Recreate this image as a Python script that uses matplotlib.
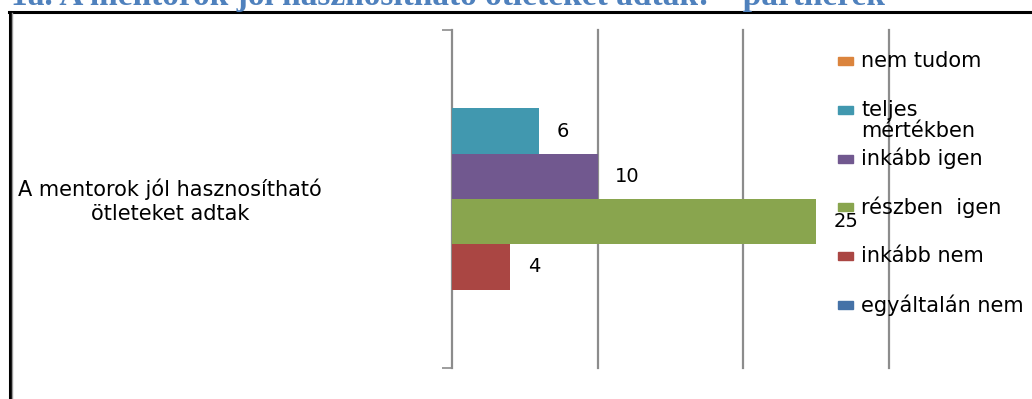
import numpy as np
import matplotlib.pyplot as plt
from matplotlib.patches import Rectangle
from matplotlib.lines import Line2D

title = "1a. A mentorok jól hasznosítható ötleteket adtak: – partnerek"
category = "A mentorok jól hasznosítható\nötleteket adtak"

# series in legend order (top to bottom)
series = ["nem tudom", "teljes\nmértékben", "inkább igen",
          "részben  igen", "inkább nem", "egyáltalán nem"]
values = [0, 6, 10, 25, 4, 0]
colors = ["#DB843D", "#4198AF", "#71588F", "#89A54E", "#AA4643", "#4572A7"]

W, H = 1032, 399
fig = plt.figure(figsize=(W / 100, H / 100), dpi=100)
fig.patch.set_facecolor("white")

def fx(px):
    return px / W

def fy(py):
    return 1 - py / H

# page frame and heading above it
fig.add_artist(Line2D([fx(9), 1], [fy(12), fy(12)], color="black", lw=2.2))
fig.add_artist(Line2D([fx(10), fx(10)], [fy(12), 0], color="black", lw=2.2))
fig.add_artist(Line2D([fx(12.3), fx(12.3)], [fy(13), 0], color="#9a9a9a", lw=1))
fig.text(fx(885), fy(5), title, ha="right", va="baseline", fontsize=24,
         fontweight="bold", family="Liberation Serif", color="#4F81BD")

ax = fig.add_axes([fx(452), fy(368), fx(889) - fx(452), (368 - 30) / H])
ax.set_xlim(0, 30)
ax.set_ylim(-0.5, 0.5)

n = len(values)
bh = 0.134
ypos = (np.arange(n)[::-1] - (n - 1) / 2) * bh
bars = ax.barh(ypos, values, height=bh, color=colors, zorder=3)
ax.bar_label(bars, labels=[str(v) if v else "" for v in values], padding=12.5,
             fontsize=14, family="DejaVu Sans", color="black")

for s in ["top", "right", "bottom"]:
    ax.spines[s].set_visible(False)
ax.spines["left"].set_color("#8c8c8c")
ax.spines["left"].set_linewidth(1.6)
ax.set_xticks([10, 20, 30])
ax.xaxis.grid(True, color="#8c8c8c", lw=1.6)
for gl in ax.get_xgridlines():
    gl.set_clip_on(False)
ax.tick_params(axis="x", length=0, labelbottom=False)
ax.set_yticks([-0.5, 0.5])
ax.set_yticklabels([])
ax.tick_params(axis="y", direction="out", length=7, width=1.2, color="#8c8c8c")

fig.text(fx(170), fy(201), category, ha="center", va="center",
         multialignment="center", fontsize=15, family="DejaVu Sans",
         linespacing=1.25)

# legend entries
for i, (name, c) in enumerate(zip(series, colors)):
    yc = 61 + i * 48.8
    fig.add_artist(Rectangle((fx(838), fy(yc + 4)), fx(15), 8 / H,
                             color=c, transform=fig.transFigure))
    nl = name.count("\n")
    fig.text(fx(861), fy(yc + nl * 10.5), name, ha="left", va="center",
             fontsize=15, family="DejaVu Sans", linespacing=1.05)

fig.savefig("out.png", dpi=100)
